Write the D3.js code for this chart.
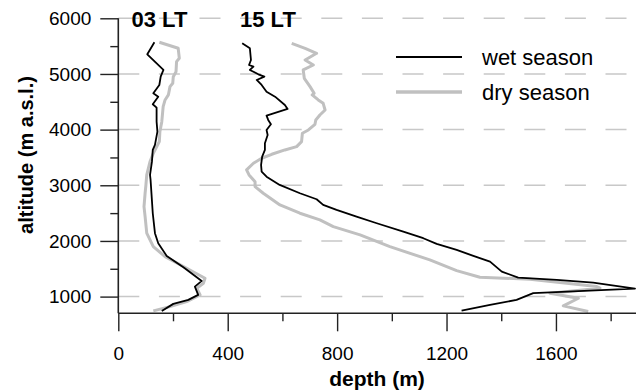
<!DOCTYPE html>
<html>
<head>
<meta charset="utf-8">
<script src="https://cdn.jsdelivr.net/npm/d3@7"></script>
<style>
  html, body { margin: 0; padding: 0; background: #fff; }
  svg { display: block; }
  text { font-family: "Liberation Sans", Arial, sans-serif; }
</style>
</head>
<body>
<svg id="chart" width="636" height="392"></svg>
<script>
// ---- data (altitude in m a.s.l., depth in m) ----
const wet03Alt   = [5569,5353,5072,4951,4802,4653,4592,4456,4394,4143,3963,3725,3635,3425,3185,3096,2796,2498,2139,1959,1731,1528,1282,1180,1031,941,869,743];
const wet03Depth = [132,106,165,155,150,128,146,126,140,140,143,134,126,123,116,118,122,126,134,146,177,238,305,280,292,256,201,159];

const dry03Alt   = [5569,5461,5282,5221,5041,4951,4833,4772,4623,4533,4413,4143,3963,3784,3575,3425,3186,3006,2857,2616,2437,2139,1898,1718,1510,1330,1241,1151,1031,910,820,743];
const dry03Depth = [150,219,223,213,211,201,199,189,183,171,164,159,152,150,128,116,104,101,98,94,98,104,128,171,250,317,311,287,299,250,189,128];

const wet15Alt   = [5551,5461,5251,5161,5131,5072,4994,4951,4892,4802,4682,4592,4443,4371,4251,4174,4096,3994,3904,3755,3635,3514,3365,3245,3155,3006,2857,2749,2647,2557,2437,2318,2167,2049,1947,1839,1731,1629,1449,1341,1300,1251,1144,1061,941,851,749];
const wet15Depth = [453,481,485,478,494,481,512,534,506,524,542,573,609,619,542,548,558,542,546,536,536,526,522,524,542,590,664,725,749,798,871,945,1042,1115,1164,1237,1298,1359,1402,1462,1603,1736,1889,1517,1456,1359,1255];

const dry15Alt   = [5551,5461,5371,5251,5161,5072,4922,4772,4653,4623,4533,4473,4353,4263,4174,4096,3994,3935,3784,3694,3635,3557,3486,3396,3276,3186,3065,2976,2857,2647,2498,2378,2257,2108,1898,1659,1467,1348,1312,1180,1151,1061,971,833,731];
const dry15Depth = [634,683,725,683,713,676,680,701,716,709,731,749,756,737,722,719,695,673,670,652,609,561,524,494,469,478,500,500,530,591,664,737,786,884,993,1139,1237,1322,1505,1749,1761,1578,1682,1627,1718];

const xMajorTicks = [0,400,800,1200,1600];
const xMinorTicks = [200,600,1000,1400,1800];
const yMajorTicks = [1000,2000,3000,4000,5000,6000];
const yMinorTicks = [1500,2500,3500,4500,5500];
const panelLabels = ["03 LT","15 LT"];
const seriesNames = ["wet season","dry season"];

// ---- scales ----
const svg = d3.select("#chart");
const x = d3.scaleLinear().domain([0,1900]).range([118.3, 638]);
const y = d3.scaleLinear().domain([700,6000]).range([313.3, 18.3]);
const xLeft = 118.3, xRight = 636;

const wetColor = "#000000", dryColor = "#c0c0c0";

// gridlines
svg.append("g").selectAll("line").data(yMajorTicks).join("line")
  .attr("x1", xLeft).attr("x2", xRight)
  .attr("y1", d => y(d)).attr("y2", d => y(d))
  .attr("stroke", "#c8c8c8").attr("stroke-width", 1.5)
  .attr("stroke-dasharray", "21,19.6");

const zip = (a, b) => a.map((v, i) => ({alt: v, depth: b[i]}));
const line = d3.line().x(d => x(d.depth)).y(d => y(d.alt));

const series = [
  {data: zip(dry03Alt, dry03Depth), color: dryColor, w: 3},
  {data: zip(dry15Alt, dry15Depth), color: dryColor, w: 3},
  {data: zip(wet03Alt, wet03Depth), color: wetColor, w: 1.8},
  {data: zip(wet15Alt, wet15Depth), color: wetColor, w: 1.8}
];
svg.append("g").selectAll("path").data(series).join("path")
  .attr("d", d => line(d.data))
  .attr("fill", "none")
  .attr("stroke", d => d.color)
  .attr("stroke-width", d => d.w)
  .attr("stroke-linejoin", "round");

// axes
const axisColor = "#222";
function styleAxis(g) {
  g.selectAll("path.domain").remove();
  g.selectAll("line").attr("stroke", axisColor).attr("stroke-width", 1.4);
  g.selectAll("text").attr("fill", "#000").style("font-size", "19px")
    .style("font-family", "'Liberation Sans', Arial, sans-serif");
}
const gx = svg.append("g").attr("transform", `translate(0,${y(700)})`);
gx.call(d3.axisBottom(x).tickValues(xMajorTicks).tickSize(18).tickPadding(15).tickFormat(d3.format("d")));
styleAxis(gx);
const gx2 = svg.append("g").attr("transform", `translate(0,${y(700)})`);
gx2.call(d3.axisBottom(x).tickValues(xMinorTicks).tickSize(8).tickFormat(""));
styleAxis(gx2);
gx.append("line").attr("x1", xLeft).attr("x2", xRight).attr("y1", 0).attr("y2", 0)
  .attr("stroke", axisColor).attr("stroke-width", 1.6);

const gy = svg.append("g").attr("transform", `translate(${xLeft},0)`);
gy.call(d3.axisLeft(y).tickValues(yMajorTicks).tickSize(18).tickPadding(9).tickFormat(d3.format("d")));
styleAxis(gy);
const gy2 = svg.append("g").attr("transform", `translate(${xLeft},0)`);
gy2.call(d3.axisLeft(y).tickValues(yMinorTicks).tickSize(8).tickFormat(""));
styleAxis(gy2);
gy.append("line").attr("x1", 0).attr("x2", 0).attr("y1", y(6000)).attr("y2", y(700))
  .attr("stroke", axisColor).attr("stroke-width", 1.6);

// axis titles
svg.append("text").attr("x", 377).attr("y", 386).attr("text-anchor", "middle")
  .style("font-size", "21px").style("font-weight", "bold").text("depth (m)");
svg.append("text").attr("transform", "translate(33,155) rotate(-90)")
  .attr("text-anchor", "middle")
  .style("font-size", "20px").style("font-weight", "bold").text("altitude (m a.s.l.)");

// panel labels
svg.append("g").selectAll("text").data(panelLabels).join("text")
  .attr("x", (d, i) => [131.5, 240][i]).attr("y", 26.7)
  .style("font-size", "22px").style("font-weight", "bold").text(d => d);

// legend
const legend = svg.append("g");
const legItems = [{name: seriesNames[0], color: wetColor, w: 2, yy: 57},
                  {name: seriesNames[1], color: dryColor, w: 3.5, yy: 92}];
legend.selectAll("line").data(legItems).join("line")
  .attr("x1", 396).attr("x2", 462).attr("y1", d => d.yy).attr("y2", d => d.yy)
  .attr("stroke", d => d.color).attr("stroke-width", d => d.w);
legend.selectAll("text").data(legItems).join("text")
  .attr("x", 482).attr("y", d => d.yy).attr("dy", "0.35em")
  .style("font-size", "22px").text(d => d.name);
</script>
</body>
</html>
